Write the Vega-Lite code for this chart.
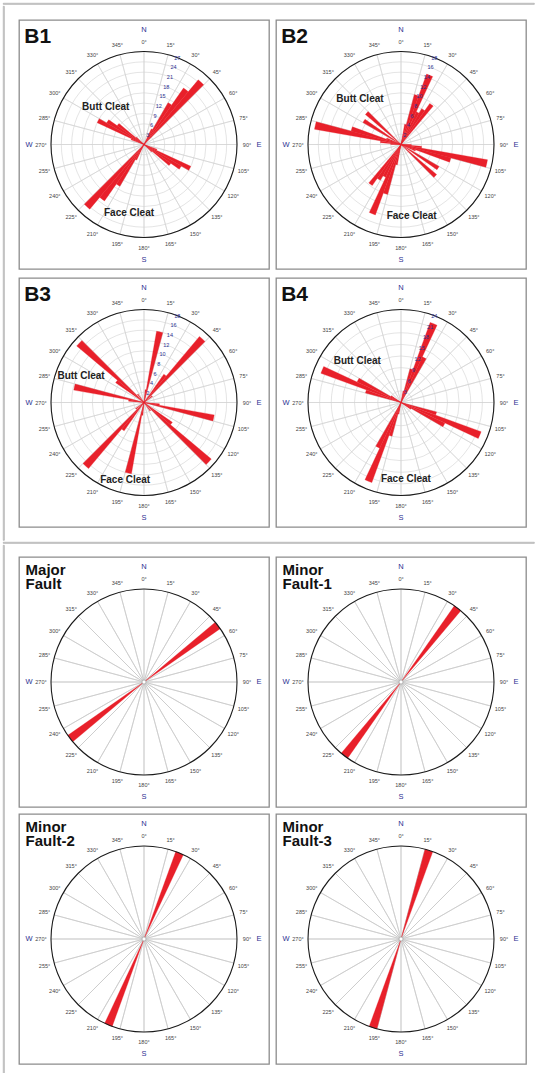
{
"$schema": "https://vega.github.io/schema/vega-lite/v6.json",
"padding": {"left": 2, "top": 2, "right": 0, "bottom": 0},
"spacing": 0,
"resolve": {"scale": {"theta": "independent", "radius": "independent"}},
"config": {
  "font": "Liberation Sans",
  "view": {"stroke": "#8c8c8c", "strokeWidth": 1.3}
},
"datasets": {
  "angles": [{"a":0,"lab":"0°"},{"a":15,"lab":"15°"},{"a":30,"lab":"30°"},{"a":45,"lab":"45°"},{"a":60,"lab":"60°"},{"a":75,"lab":"75°"},{"a":90,"lab":"90°"},{"a":105,"lab":"105°"},{"a":120,"lab":"120°"},{"a":135,"lab":"135°"},{"a":150,"lab":"150°"},{"a":165,"lab":"165°"},{"a":180,"lab":"180°"},{"a":195,"lab":"195°"},{"a":210,"lab":"210°"},{"a":225,"lab":"225°"},{"a":240,"lab":"240°"},{"a":255,"lab":"255°"},{"a":270,"lab":"270°"},{"a":285,"lab":"285°"},{"a":300,"lab":"300°"},{"a":315,"lab":"315°"},{"a":330,"lab":"330°"},{"a":345,"lab":"345°"}],
  "compass": [{"a":0,"lab":"N"},{"a":90,"lab":"E"},{"a":180,"lab":"S"},{"a":270,"lab":"W"}],
  "rings": [
    {"p":"B1","r":3},{"p":"B1","r":6},{"p":"B1","r":9},{"p":"B1","r":12},{"p":"B1","r":15},{"p":"B1","r":18},{"p":"B1","r":21},{"p":"B1","r":24},{"p":"B1","r":27},
    {"p":"B2","r":2},{"p":"B2","r":4},{"p":"B2","r":6},{"p":"B2","r":8},{"p":"B2","r":10},{"p":"B2","r":12},{"p":"B2","r":14},{"p":"B2","r":16},{"p":"B2","r":18},
    {"p":"B3","r":2},{"p":"B3","r":4},{"p":"B3","r":6},{"p":"B3","r":8},{"p":"B3","r":10},{"p":"B3","r":12},{"p":"B3","r":14},{"p":"B3","r":16},{"p":"B3","r":18},
    {"p":"B4","r":3},{"p":"B4","r":6},{"p":"B4","r":9},{"p":"B4","r":12},{"p":"B4","r":15},{"p":"B4","r":18},{"p":"B4","r":21},{"p":"B4","r":24}
  ],
  "petals": [
    {"p":"B1","a0":25,"a1":30,"v":5},{"p":"B1","a0":30,"a1":35,"v":14},{"p":"B1","a0":35,"a1":40,"v":20},{"p":"B1","a0":40,"a1":45,"v":24.5},
    {"p":"B1","a0":110,"a1":115,"v":4},{"p":"B1","a0":115,"a1":120,"v":15},{"p":"B1","a0":120,"a1":125,"v":12.5},{"p":"B1","a0":125,"a1":130,"v":9.5},{"p":"B1","a0":130,"a1":135,"v":3},
    {"p":"B1","a0":205,"a1":210,"v":5},{"p":"B1","a0":210,"a1":215,"v":14},{"p":"B1","a0":215,"a1":220,"v":20},{"p":"B1","a0":220,"a1":225,"v":24.5},
    {"p":"B1","a0":290,"a1":295,"v":4},{"p":"B1","a0":295,"a1":300,"v":15},{"p":"B1","a0":300,"a1":305,"v":12.5},{"p":"B1","a0":305,"a1":310,"v":9.5},{"p":"B1","a0":310,"a1":315,"v":3},

    {"p":"B2","a0":10,"a1":15,"v":4},{"p":"B2","a0":15,"a1":20,"v":10},{"p":"B2","a0":20,"a1":25,"v":14.5},{"p":"B2","a0":25,"a1":30,"v":7},{"p":"B2","a0":30,"a1":35,"v":8},{"p":"B2","a0":35,"a1":40,"v":9.7},
    {"p":"B2","a0":90,"a1":95,"v":2},{"p":"B2","a0":95,"a1":100,"v":4},{"p":"B2","a0":100,"a1":105,"v":17},{"p":"B2","a0":105,"a1":110,"v":10},{"p":"B2","a0":110,"a1":115,"v":3},{"p":"B2","a0":120,"a1":125,"v":8.5},{"p":"B2","a0":130,"a1":135,"v":9},
    {"p":"B2","a0":190,"a1":195,"v":4},{"p":"B2","a0":195,"a1":200,"v":10},{"p":"B2","a0":200,"a1":205,"v":14.5},{"p":"B2","a0":205,"a1":210,"v":7},{"p":"B2","a0":210,"a1":215,"v":8},{"p":"B2","a0":215,"a1":220,"v":9.7},
    {"p":"B2","a0":270,"a1":275,"v":2},{"p":"B2","a0":275,"a1":280,"v":4},{"p":"B2","a0":280,"a1":285,"v":17},{"p":"B2","a0":285,"a1":290,"v":10},{"p":"B2","a0":290,"a1":295,"v":3},{"p":"B2","a0":300,"a1":305,"v":8.5},{"p":"B2","a0":310,"a1":315,"v":9},

    {"p":"B3","a0":5,"a1":10,"v":2.5},{"p":"B3","a0":10,"a1":15,"v":14},{"p":"B3","a0":35,"a1":40,"v":6.7},{"p":"B3","a0":40,"a1":45,"v":16.7},{"p":"B3","a0":50,"a1":55,"v":2},
    {"p":"B3","a0":95,"a1":100,"v":3},{"p":"B3","a0":100,"a1":105,"v":13.8},{"p":"B3","a0":125,"a1":130,"v":6.7},{"p":"B3","a0":130,"a1":135,"v":17},{"p":"B3","a0":140,"a1":145,"v":2},
    {"p":"B3","a0":185,"a1":190,"v":2.5},{"p":"B3","a0":190,"a1":195,"v":14},{"p":"B3","a0":215,"a1":220,"v":6.7},{"p":"B3","a0":220,"a1":225,"v":16.7},{"p":"B3","a0":230,"a1":235,"v":2},
    {"p":"B3","a0":275,"a1":280,"v":3},{"p":"B3","a0":280,"a1":285,"v":13.8},{"p":"B3","a0":305,"a1":310,"v":6.7},{"p":"B3","a0":310,"a1":315,"v":17},{"p":"B3","a0":320,"a1":325,"v":2},

    {"p":"B4","a0":10,"a1":15,"v":3},{"p":"B4","a0":15,"a1":20,"v":9},{"p":"B4","a0":20,"a1":25,"v":22},{"p":"B4","a0":25,"a1":30,"v":13},
    {"p":"B4","a0":105,"a1":110,"v":9.5},{"p":"B4","a0":110,"a1":115,"v":22},{"p":"B4","a0":115,"a1":120,"v":12.5},{"p":"B4","a0":120,"a1":125,"v":3},
    {"p":"B4","a0":190,"a1":195,"v":3},{"p":"B4","a0":195,"a1":200,"v":9},{"p":"B4","a0":200,"a1":205,"v":22},{"p":"B4","a0":205,"a1":210,"v":13},
    {"p":"B4","a0":285,"a1":290,"v":9.5},{"p":"B4","a0":290,"a1":295,"v":22},{"p":"B4","a0":295,"a1":300,"v":12.5},{"p":"B4","a0":300,"a1":305,"v":3},

    {"p":"MF","a0":50,"a1":55,"v":1},{"p":"MF","a0":230,"a1":235,"v":1},
    {"p":"F1","a0":35,"a1":40,"v":1},{"p":"F1","a0":215,"a1":220,"v":1},
    {"p":"F2","a0":20,"a1":25,"v":1},{"p":"F2","a0":200,"a1":205,"v":1},
    {"p":"F3","a0":15,"a1":20,"v":1},{"p":"F3","a0":195,"a1":200,"v":1}
  ],
  "notes": [
    {"p":"B1","t":"Butt Cleat","a":314.2,"r":15.5},{"p":"B1","t":"Face Cleat","a":192.3,"r":20.4},
    {"p":"B2","t":"Butt Cleat","a":317.7,"r":11.8},{"p":"B2","t":"Face Cleat","a":171.5,"r":14},
    {"p":"B3","t":"Butt Cleat","a":292.6,"r":13.2},{"p":"B3","t":"Face Cleat","a":193.6,"r":15.5},
    {"p":"B4","t":"Butt Cleat","a":313.3,"r":15.5},{"p":"B4","t":"Face Cleat","a":176.3,"r":19.7}
  ]
},
"vconcat": [
  {"width": 531, "height": 1, "data": {"values": []}, "mark": {"type": "point"}, "view": {"stroke": "#a8a8a8", "strokeWidth": 0.8}},
  {"hconcat": [
    {"width": 1, "height": 534, "data": {"values": []}, "mark": {"type": "point"}, "view": {"stroke": "#a8a8a8", "strokeWidth": 0.8}},
    {"vconcat": [
      {"width": 1, "height": 1, "data": {"values": []}, "mark": {"type": "point"}, "view": {"stroke": null}},
      {"concat": [
        {"width":250,"height":249,"view":{"stroke":"#8c8c8c","strokeWidth":1.3},
         "layer":[
          {"data":{"name":"angles"},"mark":{"type":"arc","filled":false,"stroke":"#d2d2d2","strokeWidth":0.6},
           "encoding":{"theta":{"field":"a","type":"quantitative","stack":null,"scale":{"type":"linear","domain":[0,360],"range":[0,6.283185307179586],"zero":false,"nice":false}},
             "theta2":{"field":"a"},
             "radius":{"datum":27,"type":"quantitative","scale":{"type":"linear","domain":[0,27],"range":[0,93],"zero":true,"nice":false}}}},
          {"data":{"name":"rings"},"transform":[{"filter":"datum.p === 'B1'"}],"mark":{"type":"arc","filled":false,"stroke":"#d2d2d2","strokeWidth":0.6,"theta":0,"theta2":6.2832},
           "encoding":{"radius":{"field":"r","type":"quantitative","stack":null}}},
          {"data":{"name":"petals"},"transform":[{"filter":"datum.p === 'B1'"}],"mark":{"type":"arc","fill":"#e8202a","stroke":"#e8202a","strokeWidth":0.3},
           "encoding":{"theta":{"field":"a0","type":"quantitative","stack":null},"theta2":{"field":"a1"},"radius":{"field":"v","type":"quantitative","stack":null}}},
          {"data":{"values":[{}]},"mark":{"type":"arc","filled":false,"stroke":"#1a1a1a","strokeWidth":1.1,"theta":0,"theta2":6.2832},
           "encoding":{"radius":{"datum":27,"type":"quantitative"}}},
          {"data":{"name":"rings"},"transform":[{"filter":"datum.p === 'B1'"}],"mark":{"type":"text","fontSize":5.5,"color":"#2e3192","align":"center","baseline":"middle"},
           "encoding":{"theta":{"datum":21,"type":"quantitative","stack":null},"radius":{"field":"r","type":"quantitative","stack":null},"text":{"field":"r","type":"quantitative"}}},
          {"data":{"name":"angles"},"mark":{"type":"text","fontSize":5.5,"color":"#444444","radiusOffset":10,"align":"center","baseline":"middle"},
           "encoding":{"theta":{"field":"a","type":"quantitative","stack":null},"radius":{"datum":27,"type":"quantitative"},"text":{"field":"lab"}}},
          {"data":{"name":"compass"},"mark":{"type":"text","fontSize":7.5,"color":"#2e3192","radiusOffset":22,"align":"center","baseline":"middle"},
           "encoding":{"theta":{"field":"a","type":"quantitative","stack":null},"radius":{"datum":27,"type":"quantitative"},"text":{"field":"lab"}}},
          {"data":{"name":"notes"},"transform":[{"filter":"datum.p === 'B1'"}],"mark":{"type":"text","fontSize":10,"fontWeight":"bold","color":"#222222","align":"center","baseline":"middle"},
           "encoding":{"theta":{"field":"a","type":"quantitative","stack":null},"radius":{"field":"r","type":"quantitative","stack":null},"text":{"field":"t"}}},
          {"data":{"values":[{}]},"mark":{"type":"text","text":"B1","fontSize":21,"fontWeight":"bold","color":"#111111","align":"left","baseline":"alphabetic"},
           "encoding":{"theta":{"datum":310.27,"type":"quantitative","stack":null},"radius":{"datum":45.58,"type":"quantitative"}}}
         ]},
        {"width":250,"height":249,"view":{"stroke":"#8c8c8c","strokeWidth":1.3},
         "layer":[
          {"data":{"name":"angles"},"mark":{"type":"arc","filled":false,"stroke":"#d2d2d2","strokeWidth":0.6},
           "encoding":{"theta":{"field":"a","type":"quantitative","stack":null,"scale":{"type":"linear","domain":[0,360],"range":[0,6.283185307179586],"zero":false,"nice":false}},
             "theta2":{"field":"a"},
             "radius":{"datum":18,"type":"quantitative","scale":{"type":"linear","domain":[0,18],"range":[0,93],"zero":true,"nice":false}}}},
          {"data":{"name":"rings"},"transform":[{"filter":"datum.p === 'B2'"}],"mark":{"type":"arc","filled":false,"stroke":"#d2d2d2","strokeWidth":0.6,"theta":0,"theta2":6.2832},
           "encoding":{"radius":{"field":"r","type":"quantitative","stack":null}}},
          {"data":{"name":"petals"},"transform":[{"filter":"datum.p === 'B2'"}],"mark":{"type":"arc","fill":"#e8202a","stroke":"#e8202a","strokeWidth":0.3},
           "encoding":{"theta":{"field":"a0","type":"quantitative","stack":null},"theta2":{"field":"a1"},"radius":{"field":"v","type":"quantitative","stack":null}}},
          {"data":{"values":[{}]},"mark":{"type":"arc","filled":false,"stroke":"#1a1a1a","strokeWidth":1.1,"theta":0,"theta2":6.2832},
           "encoding":{"radius":{"datum":18,"type":"quantitative"}}},
          {"data":{"name":"rings"},"transform":[{"filter":"datum.p === 'B2'"}],"mark":{"type":"text","fontSize":5.5,"color":"#2e3192","align":"center","baseline":"middle"},
           "encoding":{"theta":{"datum":21,"type":"quantitative","stack":null},"radius":{"field":"r","type":"quantitative","stack":null},"text":{"field":"r","type":"quantitative"}}},
          {"data":{"name":"angles"},"mark":{"type":"text","fontSize":5.5,"color":"#444444","radiusOffset":10,"align":"center","baseline":"middle"},
           "encoding":{"theta":{"field":"a","type":"quantitative","stack":null},"radius":{"datum":18,"type":"quantitative"},"text":{"field":"lab"}}},
          {"data":{"name":"compass"},"mark":{"type":"text","fontSize":7.5,"color":"#2e3192","radiusOffset":22,"align":"center","baseline":"middle"},
           "encoding":{"theta":{"field":"a","type":"quantitative","stack":null},"radius":{"datum":18,"type":"quantitative"},"text":{"field":"lab"}}},
          {"data":{"name":"notes"},"transform":[{"filter":"datum.p === 'B2'"}],"mark":{"type":"text","fontSize":10,"fontWeight":"bold","color":"#222222","align":"center","baseline":"middle"},
           "encoding":{"theta":{"field":"a","type":"quantitative","stack":null},"radius":{"field":"r","type":"quantitative","stack":null},"text":{"field":"t"}}},
          {"data":{"values":[{}]},"mark":{"type":"text","text":"B2","fontSize":21,"fontWeight":"bold","color":"#111111","align":"left","baseline":"alphabetic"},
           "encoding":{"theta":{"datum":310.27,"type":"quantitative","stack":null},"radius":{"datum":30.39,"type":"quantitative"}}}
         ]},
        {"width":250,"height":249,"view":{"stroke":"#8c8c8c","strokeWidth":1.3},
         "layer":[
          {"data":{"name":"angles"},"mark":{"type":"arc","filled":false,"stroke":"#d2d2d2","strokeWidth":0.6},
           "encoding":{"theta":{"field":"a","type":"quantitative","stack":null,"scale":{"type":"linear","domain":[0,360],"range":[0,6.283185307179586],"zero":false,"nice":false}},
             "theta2":{"field":"a"},
             "radius":{"datum":18,"type":"quantitative","scale":{"type":"linear","domain":[0,18],"range":[0,93],"zero":true,"nice":false}}}},
          {"data":{"name":"rings"},"transform":[{"filter":"datum.p === 'B3'"}],"mark":{"type":"arc","filled":false,"stroke":"#d2d2d2","strokeWidth":0.6,"theta":0,"theta2":6.2832},
           "encoding":{"radius":{"field":"r","type":"quantitative","stack":null}}},
          {"data":{"name":"petals"},"transform":[{"filter":"datum.p === 'B3'"}],"mark":{"type":"arc","fill":"#e8202a","stroke":"#e8202a","strokeWidth":0.3},
           "encoding":{"theta":{"field":"a0","type":"quantitative","stack":null},"theta2":{"field":"a1"},"radius":{"field":"v","type":"quantitative","stack":null}}},
          {"data":{"values":[{}]},"mark":{"type":"arc","filled":false,"stroke":"#1a1a1a","strokeWidth":1.1,"theta":0,"theta2":6.2832},
           "encoding":{"radius":{"datum":18,"type":"quantitative"}}},
          {"data":{"name":"rings"},"transform":[{"filter":"datum.p === 'B3'"}],"mark":{"type":"text","fontSize":5.5,"color":"#2e3192","align":"center","baseline":"middle"},
           "encoding":{"theta":{"datum":21,"type":"quantitative","stack":null},"radius":{"field":"r","type":"quantitative","stack":null},"text":{"field":"r","type":"quantitative"}}},
          {"data":{"name":"angles"},"mark":{"type":"text","fontSize":5.5,"color":"#444444","radiusOffset":10,"align":"center","baseline":"middle"},
           "encoding":{"theta":{"field":"a","type":"quantitative","stack":null},"radius":{"datum":18,"type":"quantitative"},"text":{"field":"lab"}}},
          {"data":{"name":"compass"},"mark":{"type":"text","fontSize":7.5,"color":"#2e3192","radiusOffset":22,"align":"center","baseline":"middle"},
           "encoding":{"theta":{"field":"a","type":"quantitative","stack":null},"radius":{"datum":18,"type":"quantitative"},"text":{"field":"lab"}}},
          {"data":{"name":"notes"},"transform":[{"filter":"datum.p === 'B3'"}],"mark":{"type":"text","fontSize":10,"fontWeight":"bold","color":"#222222","align":"center","baseline":"middle"},
           "encoding":{"theta":{"field":"a","type":"quantitative","stack":null},"radius":{"field":"r","type":"quantitative","stack":null},"text":{"field":"t"}}},
          {"data":{"values":[{}]},"mark":{"type":"text","text":"B3","fontSize":21,"fontWeight":"bold","color":"#111111","align":"left","baseline":"alphabetic"},
           "encoding":{"theta":{"datum":310.27,"type":"quantitative","stack":null},"radius":{"datum":30.39,"type":"quantitative"}}}
         ]},
        {"width":250,"height":249,"view":{"stroke":"#8c8c8c","strokeWidth":1.3},
         "layer":[
          {"data":{"name":"angles"},"mark":{"type":"arc","filled":false,"stroke":"#d2d2d2","strokeWidth":0.6},
           "encoding":{"theta":{"field":"a","type":"quantitative","stack":null,"scale":{"type":"linear","domain":[0,360],"range":[0,6.283185307179586],"zero":false,"nice":false}},
             "theta2":{"field":"a"},
             "radius":{"datum":24,"type":"quantitative","scale":{"type":"linear","domain":[0,24],"range":[0,93],"zero":true,"nice":false}}}},
          {"data":{"name":"rings"},"transform":[{"filter":"datum.p === 'B4'"}],"mark":{"type":"arc","filled":false,"stroke":"#d2d2d2","strokeWidth":0.6,"theta":0,"theta2":6.2832},
           "encoding":{"radius":{"field":"r","type":"quantitative","stack":null}}},
          {"data":{"name":"petals"},"transform":[{"filter":"datum.p === 'B4'"}],"mark":{"type":"arc","fill":"#e8202a","stroke":"#e8202a","strokeWidth":0.3},
           "encoding":{"theta":{"field":"a0","type":"quantitative","stack":null},"theta2":{"field":"a1"},"radius":{"field":"v","type":"quantitative","stack":null}}},
          {"data":{"values":[{}]},"mark":{"type":"arc","filled":false,"stroke":"#1a1a1a","strokeWidth":1.1,"theta":0,"theta2":6.2832},
           "encoding":{"radius":{"datum":24,"type":"quantitative"}}},
          {"data":{"name":"rings"},"transform":[{"filter":"datum.p === 'B4'"}],"mark":{"type":"text","fontSize":5.5,"color":"#2e3192","align":"center","baseline":"middle"},
           "encoding":{"theta":{"datum":21,"type":"quantitative","stack":null},"radius":{"field":"r","type":"quantitative","stack":null},"text":{"field":"r","type":"quantitative"}}},
          {"data":{"name":"angles"},"mark":{"type":"text","fontSize":5.5,"color":"#444444","radiusOffset":10,"align":"center","baseline":"middle"},
           "encoding":{"theta":{"field":"a","type":"quantitative","stack":null},"radius":{"datum":24,"type":"quantitative"},"text":{"field":"lab"}}},
          {"data":{"name":"compass"},"mark":{"type":"text","fontSize":7.5,"color":"#2e3192","radiusOffset":22,"align":"center","baseline":"middle"},
           "encoding":{"theta":{"field":"a","type":"quantitative","stack":null},"radius":{"datum":24,"type":"quantitative"},"text":{"field":"lab"}}},
          {"data":{"name":"notes"},"transform":[{"filter":"datum.p === 'B4'"}],"mark":{"type":"text","fontSize":10,"fontWeight":"bold","color":"#222222","align":"center","baseline":"middle"},
           "encoding":{"theta":{"field":"a","type":"quantitative","stack":null},"radius":{"field":"r","type":"quantitative","stack":null},"text":{"field":"t"}}},
          {"data":{"values":[{}]},"mark":{"type":"text","text":"B4","fontSize":21,"fontWeight":"bold","color":"#111111","align":"left","baseline":"alphabetic"},
           "encoding":{"theta":{"datum":310.27,"type":"quantitative","stack":null},"radius":{"datum":40.52,"type":"quantitative"}}}
         ]}
      ], "columns": 2, "spacing": {"row": 9, "column": 7}, "bounds": "flush", "resolve": {"scale": {"theta": "independent", "radius": "independent"}}}
    ], "spacing": 12, "resolve": {"scale": {"theta": "independent", "radius": "independent"}}}
  ], "spacing": 13, "resolve": {"scale": {"theta": "independent", "radius": "independent"}}},
  {"width": 531, "height": 1, "data": {"values": []}, "mark": {"type": "point"}, "view": {"stroke": "#a8a8a8", "strokeWidth": 0.8}},
  {"hconcat": [
    {"width": 1, "height": 532, "data": {"values": []}, "mark": {"type": "point"}, "view": {"stroke": "#a8a8a8", "strokeWidth": 0.8}},
    {"vconcat": [
      {"width": 1, "height": 1, "data": {"values": []}, "mark": {"type": "point"}, "view": {"stroke": null}},
      {"concat": [
        {"width":250,"height":250,"view":{"stroke":"#8c8c8c","strokeWidth":1.3},
         "layer":[
          {"data":{"name":"angles"},"mark":{"type":"arc","filled":false,"stroke":"#c8c8c8","strokeWidth":0.7},
           "encoding":{"theta":{"field":"a","type":"quantitative","stack":null,"scale":{"type":"linear","domain":[0,360],"range":[0,6.283185307179586],"zero":false,"nice":false}},
             "theta2":{"field":"a"},
             "radius":{"datum":1,"type":"quantitative","scale":{"type":"linear","domain":[0,1],"range":[0,93],"zero":true,"nice":false}}}},
          {"data":{"name":"petals"},"transform":[{"filter":"datum.p === 'MF'"}],"mark":{"type":"arc","fill":"#e8202a","stroke":"#e8202a","strokeWidth":0.3},
           "encoding":{"theta":{"field":"a0","type":"quantitative","stack":null},"theta2":{"field":"a1"},"radius":{"field":"v","type":"quantitative","stack":null}}},
          {"data":{"values":[{}]},"mark":{"type":"arc","filled":false,"stroke":"#1a1a1a","strokeWidth":1.1,"theta":0,"theta2":6.2832},
           "encoding":{"radius":{"datum":1,"type":"quantitative"}}},
          {"data":{"values":[{}]},"mark":{"type":"arc","fill":"#ffffff","stroke":"#999999","strokeWidth":0.6,"theta":0,"theta2":6.2832,"radius":2},"encoding":{}},
          {"data":{"name":"angles"},"mark":{"type":"text","fontSize":5.5,"color":"#444444","radiusOffset":10,"align":"center","baseline":"middle"},
           "encoding":{"theta":{"field":"a","type":"quantitative","stack":null},"radius":{"datum":1,"type":"quantitative"},"text":{"field":"lab"}}},
          {"data":{"name":"compass"},"mark":{"type":"text","fontSize":7.5,"color":"#2e3192","radiusOffset":22,"align":"center","baseline":"middle"},
           "encoding":{"theta":{"field":"a","type":"quantitative","stack":null},"radius":{"datum":1,"type":"quantitative"},"text":{"field":"lab"}}},
          {"data":{"values":[{}]},"mark":{"type":"text","text":["Major","Fault"],"lineHeight":14,"fontSize":15,"fontWeight":"bold","color":"#111111","align":"left","baseline":"alphabetic"},
           "encoding":{"theta":{"datum":312.05,"type":"quantitative","stack":null},"radius":{"datum":1.7145,"type":"quantitative"}}}
         ]},
        {"width":250,"height":250,"view":{"stroke":"#8c8c8c","strokeWidth":1.3},
         "layer":[
          {"data":{"name":"angles"},"mark":{"type":"arc","filled":false,"stroke":"#c8c8c8","strokeWidth":0.7},
           "encoding":{"theta":{"field":"a","type":"quantitative","stack":null,"scale":{"type":"linear","domain":[0,360],"range":[0,6.283185307179586],"zero":false,"nice":false}},
             "theta2":{"field":"a"},
             "radius":{"datum":1,"type":"quantitative","scale":{"type":"linear","domain":[0,1],"range":[0,93],"zero":true,"nice":false}}}},
          {"data":{"name":"petals"},"transform":[{"filter":"datum.p === 'F1'"}],"mark":{"type":"arc","fill":"#e8202a","stroke":"#e8202a","strokeWidth":0.3},
           "encoding":{"theta":{"field":"a0","type":"quantitative","stack":null},"theta2":{"field":"a1"},"radius":{"field":"v","type":"quantitative","stack":null}}},
          {"data":{"values":[{}]},"mark":{"type":"arc","filled":false,"stroke":"#1a1a1a","strokeWidth":1.1,"theta":0,"theta2":6.2832},
           "encoding":{"radius":{"datum":1,"type":"quantitative"}}},
          {"data":{"values":[{}]},"mark":{"type":"arc","fill":"#ffffff","stroke":"#999999","strokeWidth":0.6,"theta":0,"theta2":6.2832,"radius":2},"encoding":{}},
          {"data":{"name":"angles"},"mark":{"type":"text","fontSize":5.5,"color":"#444444","radiusOffset":10,"align":"center","baseline":"middle"},
           "encoding":{"theta":{"field":"a","type":"quantitative","stack":null},"radius":{"datum":1,"type":"quantitative"},"text":{"field":"lab"}}},
          {"data":{"name":"compass"},"mark":{"type":"text","fontSize":7.5,"color":"#2e3192","radiusOffset":22,"align":"center","baseline":"middle"},
           "encoding":{"theta":{"field":"a","type":"quantitative","stack":null},"radius":{"datum":1,"type":"quantitative"},"text":{"field":"lab"}}},
          {"data":{"values":[{}]},"mark":{"type":"text","text":["Minor","Fault-1"],"lineHeight":14,"fontSize":15,"fontWeight":"bold","color":"#111111","align":"left","baseline":"alphabetic"},
           "encoding":{"theta":{"datum":312.05,"type":"quantitative","stack":null},"radius":{"datum":1.7145,"type":"quantitative"}}}
         ]},
        {"width":250,"height":250,"view":{"stroke":"#8c8c8c","strokeWidth":1.3},
         "layer":[
          {"data":{"name":"angles"},"mark":{"type":"arc","filled":false,"stroke":"#c8c8c8","strokeWidth":0.7},
           "encoding":{"theta":{"field":"a","type":"quantitative","stack":null,"scale":{"type":"linear","domain":[0,360],"range":[0,6.283185307179586],"zero":false,"nice":false}},
             "theta2":{"field":"a"},
             "radius":{"datum":1,"type":"quantitative","scale":{"type":"linear","domain":[0,1],"range":[0,93],"zero":true,"nice":false}}}},
          {"data":{"name":"petals"},"transform":[{"filter":"datum.p === 'F2'"}],"mark":{"type":"arc","fill":"#e8202a","stroke":"#e8202a","strokeWidth":0.3},
           "encoding":{"theta":{"field":"a0","type":"quantitative","stack":null},"theta2":{"field":"a1"},"radius":{"field":"v","type":"quantitative","stack":null}}},
          {"data":{"values":[{}]},"mark":{"type":"arc","filled":false,"stroke":"#1a1a1a","strokeWidth":1.1,"theta":0,"theta2":6.2832},
           "encoding":{"radius":{"datum":1,"type":"quantitative"}}},
          {"data":{"values":[{}]},"mark":{"type":"arc","fill":"#ffffff","stroke":"#999999","strokeWidth":0.6,"theta":0,"theta2":6.2832,"radius":2},"encoding":{}},
          {"data":{"name":"angles"},"mark":{"type":"text","fontSize":5.5,"color":"#444444","radiusOffset":10,"align":"center","baseline":"middle"},
           "encoding":{"theta":{"field":"a","type":"quantitative","stack":null},"radius":{"datum":1,"type":"quantitative"},"text":{"field":"lab"}}},
          {"data":{"name":"compass"},"mark":{"type":"text","fontSize":7.5,"color":"#2e3192","radiusOffset":22,"align":"center","baseline":"middle"},
           "encoding":{"theta":{"field":"a","type":"quantitative","stack":null},"radius":{"datum":1,"type":"quantitative"},"text":{"field":"lab"}}},
          {"data":{"values":[{}]},"mark":{"type":"text","text":["Minor","Fault-2"],"lineHeight":14,"fontSize":15,"fontWeight":"bold","color":"#111111","align":"left","baseline":"alphabetic"},
           "encoding":{"theta":{"datum":312.05,"type":"quantitative","stack":null},"radius":{"datum":1.7145,"type":"quantitative"}}}
         ]},
        {"width":250,"height":250,"view":{"stroke":"#8c8c8c","strokeWidth":1.3},
         "layer":[
          {"data":{"name":"angles"},"mark":{"type":"arc","filled":false,"stroke":"#c8c8c8","strokeWidth":0.7},
           "encoding":{"theta":{"field":"a","type":"quantitative","stack":null,"scale":{"type":"linear","domain":[0,360],"range":[0,6.283185307179586],"zero":false,"nice":false}},
             "theta2":{"field":"a"},
             "radius":{"datum":1,"type":"quantitative","scale":{"type":"linear","domain":[0,1],"range":[0,93],"zero":true,"nice":false}}}},
          {"data":{"name":"petals"},"transform":[{"filter":"datum.p === 'F3'"}],"mark":{"type":"arc","fill":"#e8202a","stroke":"#e8202a","strokeWidth":0.3},
           "encoding":{"theta":{"field":"a0","type":"quantitative","stack":null},"theta2":{"field":"a1"},"radius":{"field":"v","type":"quantitative","stack":null}}},
          {"data":{"values":[{}]},"mark":{"type":"arc","filled":false,"stroke":"#1a1a1a","strokeWidth":1.1,"theta":0,"theta2":6.2832},
           "encoding":{"radius":{"datum":1,"type":"quantitative"}}},
          {"data":{"values":[{}]},"mark":{"type":"arc","fill":"#ffffff","stroke":"#999999","strokeWidth":0.6,"theta":0,"theta2":6.2832,"radius":2},"encoding":{}},
          {"data":{"name":"angles"},"mark":{"type":"text","fontSize":5.5,"color":"#444444","radiusOffset":10,"align":"center","baseline":"middle"},
           "encoding":{"theta":{"field":"a","type":"quantitative","stack":null},"radius":{"datum":1,"type":"quantitative"},"text":{"field":"lab"}}},
          {"data":{"name":"compass"},"mark":{"type":"text","fontSize":7.5,"color":"#2e3192","radiusOffset":22,"align":"center","baseline":"middle"},
           "encoding":{"theta":{"field":"a","type":"quantitative","stack":null},"radius":{"datum":1,"type":"quantitative"},"text":{"field":"lab"}}},
          {"data":{"values":[{}]},"mark":{"type":"text","text":["Minor","Fault-3"],"lineHeight":14,"fontSize":15,"fontWeight":"bold","color":"#111111","align":"left","baseline":"alphabetic"},
           "encoding":{"theta":{"datum":312.05,"type":"quantitative","stack":null},"radius":{"datum":1.7145,"type":"quantitative"}}}
         ]}
      ], "columns": 2, "spacing": {"row": 7, "column": 7}, "bounds": "flush", "resolve": {"scale": {"theta": "independent", "radius": "independent"}}}
    ], "spacing": 10, "resolve": {"scale": {"theta": "independent", "radius": "independent"}}}
  ], "spacing": 13, "resolve": {"scale": {"theta": "independent", "radius": "independent"}}}
]
}
